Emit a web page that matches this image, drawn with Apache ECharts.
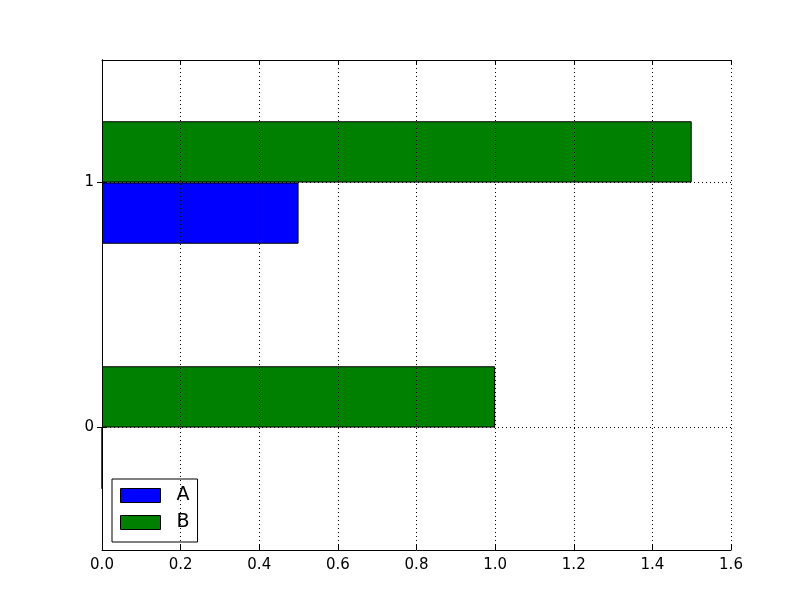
<!DOCTYPE html>
<html>
<head>
<meta charset="utf-8">
<script src="https://cdn.jsdelivr.net/npm/echarts@6/dist/echarts.min.js"></script>
<style>html,body{margin:0;padding:0;background:#fff}#c{width:812px;height:612px}</style>
</head>
<body>
<div id="c"></div>
<script>
var categories = ['0', '1'];
var seriesA = [0, 0.5];
var seriesB = [1.0, 1.5];
var xTicks = [0, 0.2, 0.4, 0.6, 0.8, 1.0, 1.2, 1.4, 1.6];

var FONT = 'DejaVu Sans';
var chart = echarts.init(document.getElementById('c'));
var tickStyle = {show: true, inside: true, length: 5, lineStyle: {color: '#000', width: 1}};
chart.setOption({
  animation: false,
  textStyle: {fontFamily: FONT},
  grid: {left: 102, right: 81, top: 60, bottom: 62, containLabel: false},
  legend: {
    data: ['A', 'B'],
    orient: 'vertical',
    left: 112, bottom: 70,
    itemWidth: 40, itemHeight: 14, itemGap: 8,
    padding: [7, 8, 10, 8],
    borderColor: '#000', borderWidth: 1, borderRadius: 0,
    backgroundColor: '#fff',
    icon: 'rect',
    textStyle: {fontFamily: FONT, fontSize: 19, color: '#000', padding: [0, 0, 0, 11]},
    itemStyle: {borderColor: '#000', borderWidth: 1}
  },
  xAxis: [{
    type: 'value', min: 0, max: 1.6, interval: 0.2, position: 'bottom', z: 10,
    axisLine: {show: true, lineStyle: {color: '#000', width: 1}},
    axisTick: tickStyle,
    axisLabel: {color: '#000', fontSize: 15, fontFamily: FONT, margin: 8,
      formatter: function (v) { return v.toFixed(1); }},
    splitLine: {show: true, lineStyle: {color: '#000', type: [1, 3], width: 1}}
  }, {
    type: 'value', min: 0, max: 1.6, interval: 0.2, position: 'top', z: 10,
    axisLine: {show: true, lineStyle: {color: '#000', width: 1}},
    axisTick: tickStyle,
    axisLabel: {show: false},
    splitLine: {show: false}
  }],
  yAxis: [{
    type: 'category', data: categories, position: 'left', z: 10,
    axisLine: {show: true, lineStyle: {color: '#000', width: 1}},
    axisTick: {show: true, inside: true, length: 5, alignWithLabel: true, lineStyle: {color: '#000'}},
    axisLabel: {color: '#000', fontSize: 15, fontFamily: FONT, margin: 8},
    splitLine: {show: false}
  }, {
    type: 'category', data: categories, position: 'right', z: 10,
    axisLine: {show: true, lineStyle: {color: '#000', width: 1}},
    axisTick: {show: true, inside: true, length: 5, alignWithLabel: true, lineStyle: {color: '#000'}},
    axisLabel: {show: false},
    splitLine: {show: false}
  }],
  series: [{
    name: 'B', type: 'bar', data: seriesB, xAxisIndex: 0, yAxisIndex: 0,
    barWidth: '25%', barGap: '0%',
    itemStyle: {color: '#008000', borderColor: '#000', borderWidth: 1}
  }, {
    name: 'A', type: 'bar', data: seriesA, xAxisIndex: 0, yAxisIndex: 0,
    barWidth: '25%', barGap: '0%',
    itemStyle: {color: '#0000ff', borderColor: '#000', borderWidth: 1}
  }, {
    name: 'grid', type: 'line', data: [null, null], xAxisIndex: 0, yAxisIndex: 0,
    showSymbol: false, silent: true, z: 1,
    markLine: {
      silent: true, symbol: 'none', z: 1, animation: false,
      label: {show: false},
      lineStyle: {color: '#000', type: [1, 3], width: 1},
      data: categories.map(function (c) { return {yAxis: c}; })
    }
  }]
});
</script>
</body>
</html>
